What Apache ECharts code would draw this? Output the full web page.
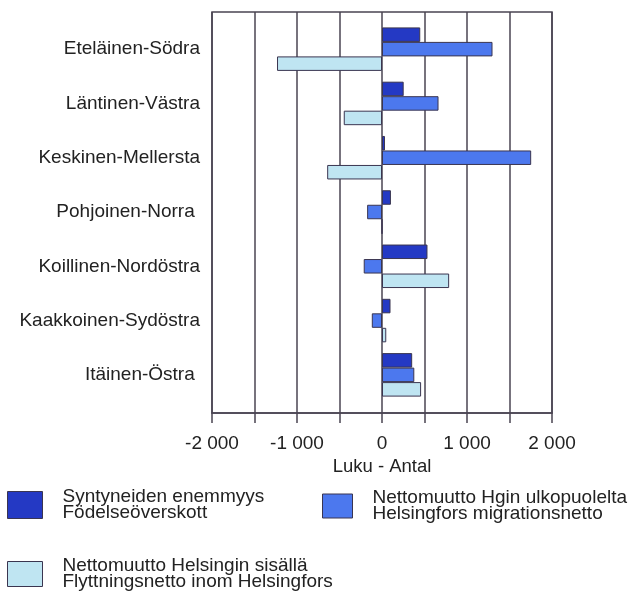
<!DOCTYPE html>
<html>
<head>
<meta charset="utf-8">
<script src="https://cdn.jsdelivr.net/npm/echarts@6/dist/echarts.min.js"></script>
<style>
html,body{margin:0;padding:0;background:#fff;}
#chart{width:628px;height:593px;}
</style>
</head>
<body>
<div id="chart"></div>
<script>
const categories = ['Eteläinen-Södra', 'Läntinen-Västra', 'Keskinen-Mellersta', 'Pohjoinen-Norra ', 'Koillinen-Nordöstra', 'Kaakkoinen-Sydöstra', 'Itäinen-Östra '];
const seriesNames = ['Syntyneiden enemmyys\nFödelseöverskott', 'Nettomuutto Hgin ulkopuolelta\nHelsingfors migrationsnetto', 'Nettomuutto Helsingin sisällä\nFlyttningsnetto inom Helsingfors'];
const birthSurplus = [450, 255, 35, 105, 535, 100, 355];
const netOutside = [1300, 665, 1755, -175, -215, -120, 380];
const netInside = [-1235, -450, -645, 0, 790, 50, 460];
const xMin = -2000, xMax = 2000, xInterval = 500;

const FONT = "'Liberation Sans', Arial, sans-serif";
const LINE = '#4a4452';
const colors = ['#2439c4', '#4c78ee', '#bfe5f2'];
const BORDER = '#3a3550';

function fmt(v) {
  if (v % 1000 !== 0) return '';
  const s = String(Math.abs(v)).replace(/\B(?=(\d{3})+(?!\d))/g, ' ');
  return (v < 0 ? '-' : '') + s;
}

const chart = echarts.init(document.getElementById('chart'), null, {renderer: 'canvas'});
const data = [birthSurplus, netOutside, netInside];

function legendFor(idx, left, top, w, h) {
  return {
    data: [seriesNames[idx]],
    left: left, top: top,
    orient: 'horizontal',
    itemWidth: w, itemHeight: h,
    icon: 'rect',
    selectedMode: false,
    padding: 0,
    itemStyle: {borderColor: BORDER, borderWidth: 1},
    textStyle: {fontFamily: FONT, fontSize: 19, color: '#222', lineHeight: 16, padding: [6, 0, 0, 15]}
  };
}

chart.setOption({
  animation: false,
  backgroundColor: '#fff',
  grid: [
    {left: 212, right: 76, top: 12, bottom: 180, show: true, borderColor: LINE, borderWidth: 1.5, backgroundColor: 'transparent'},
    {left: 212, right: 76, top: 22, bottom: 191}
  ],
  xAxis: [
    {
      type: 'value', gridIndex: 0, min: xMin, max: xMax, interval: xInterval,
      axisLine: {show: true, lineStyle: {color: LINE, width: 1.5}},
      axisTick: {show: true, length: 10, lineStyle: {color: LINE, width: 1.5}},
      splitLine: {show: true, lineStyle: {color: LINE, width: 1.5}},
      axisLabel: {formatter: fmt, fontFamily: FONT, fontSize: 19, color: '#222', margin: 21, showMinLabel: true, showMaxLabel: true},
      name: 'Luku - Antal', nameLocation: 'middle', nameGap: 43,
      nameTextStyle: {fontFamily: FONT, fontSize: 18.5, color: '#222'}
    },
    {type: 'value', gridIndex: 1, min: xMin, max: xMax, interval: xInterval, show: false}
  ],
  yAxis: [
    {type: 'value', gridIndex: 0, show: false, min: 0, max: 1},
    {
      type: 'category', gridIndex: 1, data: categories, inverse: true,
      axisLine: {show: false}, axisTick: {show: false}, splitLine: {show: false},
      axisLabel: {fontFamily: FONT, fontSize: 19, color: '#222', margin: 12, align: 'right'}
    }
  ],
  legend: [
    legendFor(0, 7, 486, 35, 27),
    legendFor(1, 322, 487, 30, 24),
    legendFor(2, 7, 555, 35, 25)
  ],
  series: data.map((d, i) => ({
    name: seriesNames[i],
    type: 'bar',
    xAxisIndex: 1, yAxisIndex: 1,
    data: d,
    barWidth: 14.5,
    barGap: '0%',
    itemStyle: {color: colors[i], borderColor: BORDER, borderWidth: 1}
  }))
});
</script>
</body>
</html>
